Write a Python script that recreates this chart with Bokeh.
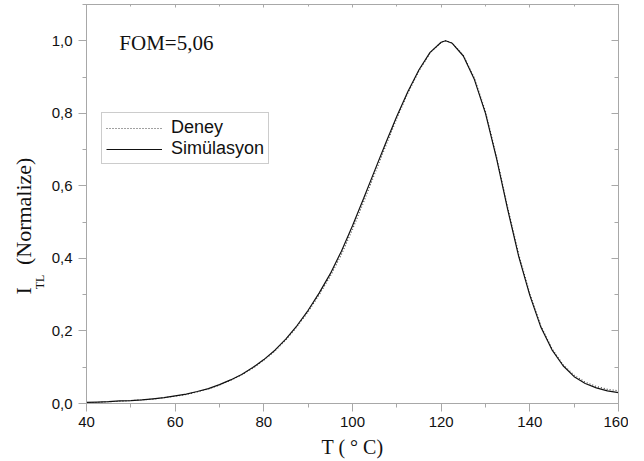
from bokeh.plotting import figure
from bokeh.models import Range1d, FixedTicker, LinearAxis, Label, Legend, LegendItem
from bokeh.embed import file_html
from bokeh.resources import INLINE

# ---- data ----
T = [40, 42.5, 45, 47.5, 50, 52.5, 55, 57.5, 60, 62.5, 65, 67.5, 70, 72.5, 75, 77.5,
     80, 82.5, 85, 87.5, 90, 92.5, 95, 97.5, 100, 102.5, 105, 107.5, 110, 112.5, 115,
     117.5, 120, 121, 122.5, 125, 127.5, 130, 132.5, 135, 137.5, 140, 142.5, 145, 147.5,
     150, 152.5, 155, 157.5, 160]
I_sim = [0.003, 0.004, 0.005, 0.007, 0.008, 0.010, 0.013, 0.016, 0.021, 0.026, 0.033,
         0.041, 0.052, 0.065, 0.080, 0.099, 0.121, 0.147, 0.178, 0.215, 0.257, 0.305,
         0.358, 0.420, 0.490, 0.565, 0.642, 0.718, 0.792, 0.860, 0.920, 0.968, 0.996,
         1.000, 0.993, 0.958, 0.893, 0.800, 0.675, 0.535, 0.405, 0.298, 0.210, 0.148,
         0.104, 0.074, 0.055, 0.043, 0.035, 0.030]
I_deney = [0.002, 0.003, 0.005, 0.006, 0.008, 0.010, 0.012, 0.016, 0.020, 0.025, 0.032,
           0.040, 0.051, 0.064, 0.079, 0.097, 0.119, 0.145, 0.176, 0.212, 0.253, 0.300,
           0.351, 0.411, 0.480, 0.555, 0.633, 0.710, 0.786, 0.856, 0.917, 0.966, 0.996,
           1.000, 0.994, 0.960, 0.897, 0.805, 0.680, 0.541, 0.411, 0.303, 0.214, 0.151,
           0.107, 0.078, 0.059, 0.047, 0.039, 0.035]

x_ticks = [40, 60, 80, 100, 120, 140, 160]
x_tick_labels = ["40", "60", "80", "100", "120", "140", "160"]
x_minor = [50, 70, 90, 110, 130, 150]
y_ticks = [0.0, 0.2, 0.4, 0.6, 0.8, 1.0]
y_tick_labels = ["0,0", "0,2", "0,4", "0,6", "0,8", "1,0"]
y_minor = [0.1, 0.3, 0.5, 0.7, 0.9, 1.1]

series_names = ["Deney", "Simülasyon"]
fom_text = "FOM=5,06"
x_title = "T ( ° C)"
y_title_main = "I"
y_title_sub = "TL"
y_title_rest = "(Normalize)"

AX = "#a8a8a8"
SERIF = "Liberation Serif"
SANS = "Liberation Sans"
NB = "\u00a0"

p = figure(frame_width=532, frame_height=399,
           x_range=Range1d(40, 160), y_range=Range1d(0, 1.1),
           output_backend="svg", toolbar_location=None,
           min_border_left=86, min_border_top=4, min_border_right=10,
           min_border_bottom=56)
p.grid.visible = False
p.outline_line_color = AX
p.background_fill_color = "white"
p.border_fill_color = "white"

xa = p.xaxis[0]
xa.ticker = FixedTicker(ticks=x_ticks, minor_ticks=x_minor)
xa.major_label_overrides = {t: l for t, l in zip(x_ticks, x_tick_labels)}
ya = p.yaxis[0]
ya.ticker = FixedTicker(ticks=y_ticks, minor_ticks=y_minor)
ya.major_label_overrides = {t: l for t, l in zip(y_ticks, y_tick_labels)}

for ax, stand in ((xa, 5), (ya, 6)):
    ax.axis_line_color = AX
    ax.major_tick_line_color = AX
    ax.minor_tick_line_color = AX
    ax.major_tick_out = 8
    ax.major_tick_in = 0
    ax.minor_tick_out = 4
    ax.minor_tick_in = 0
    ax.major_label_text_font = SANS
    ax.major_label_text_font_size = "15px"
    ax.major_label_text_color = "#111111"
    ax.major_label_standoff = stand

# x axis title
xa.axis_label = x_title
xa.axis_label_text_font = SERIF
xa.axis_label_text_font_size = "20px"
xa.axis_label_text_font_style = "normal"
xa.axis_label_text_color = "#111111"
xa.axis_label_standoff = 6

# y axis title: subscript on the inner axis, main part on an outer blank axis
ya.axis_label = y_title_sub + NB * 52
ya.axis_label_text_font = SERIF
ya.axis_label_text_font_size = "12px"
ya.axis_label_text_font_style = "normal"
ya.axis_label_text_color = "#111111"
ya.axis_label_standoff = 2

outer = LinearAxis(ticker=FixedTicker(ticks=[]))
outer.axis_line_color = None
outer.major_tick_line_color = None
outer.minor_tick_line_color = None
outer.major_label_text_font_size = "0px"
outer.major_label_standoff = 0
outer.axis_label = y_title_main + NB * 4 + y_title_rest + NB * 8
outer.axis_label_text_font = SERIF
outer.axis_label_text_font_size = "22px"
outer.axis_label_text_font_style = "normal"
outer.axis_label_text_color = "#111111"
outer.axis_label_standoff = -6
p.add_layout(outer, "left")

top = LinearAxis(ticker=FixedTicker(ticks=x_ticks, minor_ticks=x_minor))
right = LinearAxis(ticker=FixedTicker(ticks=y_ticks, minor_ticks=y_minor))
for ax, tin, min_in in ((top, 3, 2), (right, 7, 4)):
    ax.axis_line_color = AX
    ax.major_tick_line_color = AX
    ax.minor_tick_line_color = AX
    ax.major_tick_in = tin
    ax.major_tick_out = 0
    ax.minor_tick_in = min_in
    ax.minor_tick_out = 0
    ax.major_label_text_font_size = "0px"
    ax.major_label_standoff = 0
    ax.axis_label_standoff = 0
p.add_layout(top, "above")
p.add_layout(right, "right")

r_dn = p.line(T, I_deney, line_color="#444444", line_width=1.1, line_dash="1 2")
r_sim = p.line(T, I_sim, line_color="#111111", line_width=1.2)

legend = Legend(items=[LegendItem(label=series_names[0], renderers=[r_dn]),
                       LegendItem(label=series_names[1], renderers=[r_sim])],
                location=(15, 239), label_text_font=SANS, label_text_font_size="18px",
                label_text_color="#111111", glyph_width=56, glyph_height=20,
                label_height=20, label_standoff=9, padding=4, spacing=0, margin=0,
                border_line_color="#999999", border_line_width=1,
                background_fill_alpha=1.0)
p.add_layout(legend, "center")

p.add_layout(Label(x=47.4, y=0.995, text=fom_text, text_font=SERIF,
                   text_font_size="21px", text_baseline="middle", text_align="left",
                   text_color="#111111"))

open("out.html", "w").write(file_html(p, INLINE))
